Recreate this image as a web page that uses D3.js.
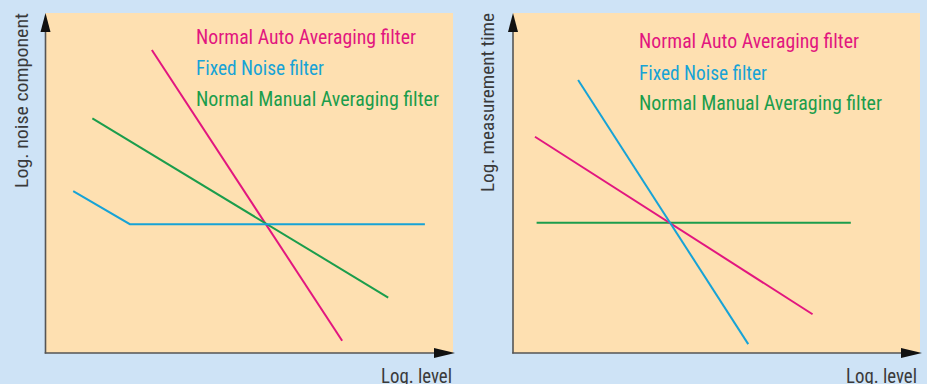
<!DOCTYPE html>
<html>
<head>
<meta charset="utf-8">
<script src="https://cdn.jsdelivr.net/npm/d3@7"></script>
<style>
  html, body { margin: 0; padding: 0; background: #cee3f6; }
  svg { display: block; }
  text { font-family: "Liberation Sans Narrow", "Roboto Condensed", "DejaVu Sans Condensed", "Liberation Sans", sans-serif; }
</style>
</head>
<body>
<svg id="chart"></svg>
<script>
const W = 927, H = 384;

// legend / series names, shared by both panels
const seriesNames = ["Normal Auto Averaging filter", "Fixed Noise filter", "Normal Manual Averaging filter"];
const seriesColors = ["#e2167f", "#17a3d6", "#1b9d4c"];
const yLabels = ["Log. noise component", "Log. measurement time"];
const xLabel = "Log. level";

// values on a 0..100 log-ish scale
const noiseAuto = [[26.1, 89.1], [72.8, 3.6]];
const noiseFixed = [[6.8, 47.6], [20.7, 37.9], [93.1, 37.9]];
const noiseManual = [[11.5, 69.0], [84.1, 16.3]];

const timeAuto = [[5.4, 63.6], [73.6, 11.4]];
const timeFixed = [[16.0, 80.3], [57.8, 2.6]];
const timeManual = [[5.8, 38.3], [83.0, 38.3]];

const panelData = [
  [noiseAuto, noiseFixed, noiseManual],
  [timeAuto, timeFixed, timeManual]
];

// layout of each panel (pixels)
const panels = [
  { left: 45.5, right: 453, top: 13, bottom: 353, legendX: 196, legendY: [43.5, 75, 106], yLabelX: 28, yLen: 175, xLabEnd: 452, order: [0, 2, 1] },
  { left: 513, right: 920, top: 13, bottom: 353, legendX: 639, legendY: [48, 79.5, 110], yLabelX: 494, yLen: 179, xLabEnd: 917, order: [2, 0, 1] }
];
const legendLens = [220, 128, 243];

const svg = d3.select("#chart").attr("width", W).attr("height", H);

svg.append("rect").attr("width", W).attr("height", H).attr("fill", "#cee3f6");

panels.forEach((p, pi) => {
  const x = d3.scaleLinear().domain([0, 100]).range([p.left, p.right]);
  const y = d3.scaleLinear().domain([0, 100]).range([p.bottom, p.top]);
  const g = svg.append("g");

  g.append("rect")
    .attr("x", p.left).attr("y", p.top)
    .attr("width", p.right - p.left).attr("height", p.bottom - p.top)
    .attr("fill", "#fee0b1");

  const line = d3.line().x(d => x(d[0])).y(d => y(d[1]));

  p.order.forEach(si => {
    g.append("path")
      .attr("d", line(panelData[pi][si]))
      .attr("fill", "none")
      .attr("stroke", seriesColors[si])
      .attr("stroke-width", 2);
  });

  // axes with arrowheads
  g.append("line")
    .attr("x1", p.left).attr("y1", p.bottom + 0.5)
    .attr("x2", p.left).attr("y2", p.top + 10)
    .attr("stroke", "#555").attr("stroke-width", 1.6);
  g.append("line")
    .attr("x1", p.left - 0.8).attr("y1", p.bottom)
    .attr("x2", p.right - 10).attr("y2", p.bottom)
    .attr("stroke", "#555").attr("stroke-width", 1.6);

  g.append("path")
    .attr("d", `M${p.left},${p.top} L${p.left + 5},${p.top + 19} L${p.left - 5},${p.top + 19} Z`)
    .attr("fill", "#111");
  g.append("path")
    .attr("d", `M${p.right + 2},${p.bottom} L${p.right - 19},${p.bottom + 5} L${p.right - 19},${p.bottom - 5} Z`)
    .attr("fill", "#111");

  // legend
  seriesNames.forEach((name, si) => {
    g.append("text")
      .attr("x", p.legendX).attr("y", p.legendY[si])
      .attr("font-size", 21)
      .attr("fill", seriesColors[si])
      .attr("textLength", legendLens[si])
      .attr("lengthAdjust", "spacingAndGlyphs")
      .text(name);
  });

  // axis titles
  g.append("text")
    .attr("transform", `translate(${p.yLabelX},${p.top}) rotate(-90)`)
    .attr("text-anchor", "end")
    .attr("font-size", 18.5)
    .attr("fill", "#3a3a3a")
    .attr("textLength", p.yLen)
    .attr("lengthAdjust", "spacingAndGlyphs")
    .text(yLabels[pi]);

  g.append("text")
    .attr("x", p.xLabEnd).attr("y", 382.5)
    .attr("text-anchor", "end")
    .attr("font-size", 20.5)
    .attr("fill", "#3a3a3a")
    .attr("textLength", 71)
    .attr("lengthAdjust", "spacingAndGlyphs")
    .text(xLabel);
});
</script>
</body>
</html>
